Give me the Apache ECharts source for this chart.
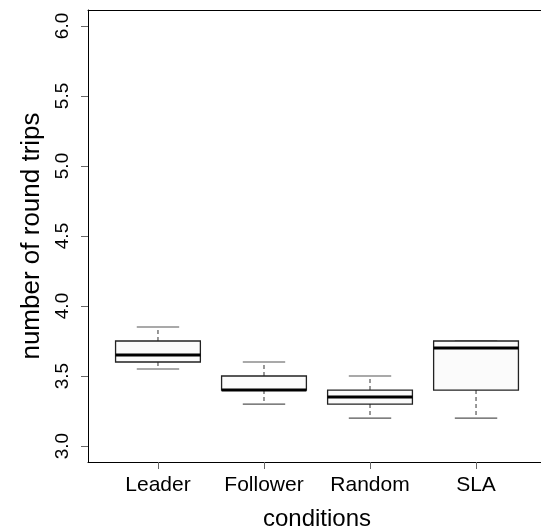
<!DOCTYPE html>
<html>
<head>
<meta charset="utf-8">
<script src="https://cdn.jsdelivr.net/npm/echarts@6/dist/echarts.min.js"></script>
<style>
    html, body {margin: 0; padding: 0; background: #fff;}
    #main {width: 541px; height: 528px;}
</style>
</head>
<body>
<div id="main"></div>
<script>
const categories = ['Leader', 'Follower', 'Random', 'SLA'];
const lower = [3.55, 3.3, 3.2, 3.2];
const q1 = [3.6, 3.4, 3.3, 3.4];
const median = [3.65, 3.4, 3.35, 3.7];
const q3 = [3.75, 3.5, 3.4, 3.75];
const upper = [3.85, 3.6, 3.5, 3.75];
const yTicks = [3.0, 3.5, 4.0, 4.5, 5.0, 5.5, 6.0];

let myChart = echarts.init(document.getElementById('main'));

let boxData = categories.map((name, i) => [i + 1, lower[i], q1[i], median[i], q3[i], upper[i]]);

const renderBox = (params, api) => {
    let x = api.value(0);
    let pt = v => api.coord([x, v]);
    let left = api.coord([x - 0.4, 0])[0];
    let right = api.coord([x + 0.4, 0])[0];
    let capL = api.coord([x - 0.2, 0])[0];
    let capR = api.coord([x + 0.2, 0])[0];
    let cx = pt(api.value(1))[0];
    let yLow = pt(api.value(1))[1];
    let yQ1 = pt(api.value(2))[1];
    let yMed = pt(api.value(3))[1];
    let yQ3 = pt(api.value(4))[1];
    let yHigh = pt(api.value(5))[1];
    let whisker = {stroke: '#555', lineWidth: 1.2, lineDash: [4, 3]};
    let cap = {stroke: '#555', lineWidth: 1.2};
    return {
        type: 'group',
        children: [
            {type: 'line', shape: {x1: cx, y1: yQ3, x2: cx, y2: yHigh}, style: whisker},
            {type: 'line', shape: {x1: cx, y1: yQ1, x2: cx, y2: yLow}, style: whisker},
            {type: 'line', shape: {x1: capL, y1: yHigh, x2: capR, y2: yHigh}, style: cap},
            {type: 'line', shape: {x1: capL, y1: yLow, x2: capR, y2: yLow}, style: cap},
            {
                type: 'rect',
                shape: {x: left, y: yQ3, width: right - left, height: yQ1 - yQ3},
                style: {fill: '#fbfbfb', stroke: '#222', lineWidth: 1.3}
            },
            {type: 'line', shape: {x1: left, y1: yMed, x2: right, y2: yMed}, style: {stroke: '#000', lineWidth: 3}}
        ]
    };
};

let frameLine = {show: true, lineStyle: {color: '#000', width: 1}};

let option = {
    animation: false,
    grid: {
        left: 88,
        width: 458,
        top: 10,
        bottom: 66,
        outerBoundsMode: 'none'
    },
    xAxis: [
        {
            type: 'value',
            min: 0.34,
            max: 4.66,
            name: 'conditions',
            nameLocation: 'middle',
            nameGap: 45,
            nameTextStyle: {fontFamily: 'Liberation Sans', fontSize: 24, color: '#000'},
            axisLine: frameLine,
            splitLine: {show: false},
            axisTick: {show: true, customValues: [1, 2, 3, 4], length: 7, lineStyle: {color: '#666'}},
            axisLabel: {
                customValues: [1, 2, 3, 4],
                formatter: v => categories[Math.round(v) - 1],
                margin: 13,
                fontFamily: 'Liberation Sans',
                fontSize: 21,
                color: '#000'
            }
        },
        {
            // top edge of the frame only
            type: 'value',
            position: 'top',
            min: 0.34,
            max: 4.66,
            axisLine: frameLine,
            axisTick: {show: false},
            axisLabel: {show: false},
            splitLine: {show: false}
        }
    ],
    yAxis: {
        type: 'value',
        min: 2.886,
        max: 6.114,
        name: 'number of round trips',
        nameLocation: 'middle',
        nameRotate: 90,
        nameGap: 33,
        nameTextStyle: {fontFamily: 'Liberation Sans', fontSize: 26, color: '#000'},
        axisLine: frameLine,
        splitLine: {show: false},
        axisTick: {show: true, customValues: yTicks, length: 7, lineStyle: {color: '#666'}},
        axisLabel: {
            customValues: yTicks,
            formatter: v => v.toFixed(1),
            rotate: 90,
            margin: 16,
            fontFamily: 'Liberation Sans',
            fontSize: 19,
            color: '#000'
        }
    },
    series: [
        {
            type: 'custom',
            renderItem: renderBox,
            encode: {x: 0, y: [1, 2, 3, 4, 5]},
            data: boxData
        }
    ]
};

myChart.setOption(option);
</script>
</body>
</html>
